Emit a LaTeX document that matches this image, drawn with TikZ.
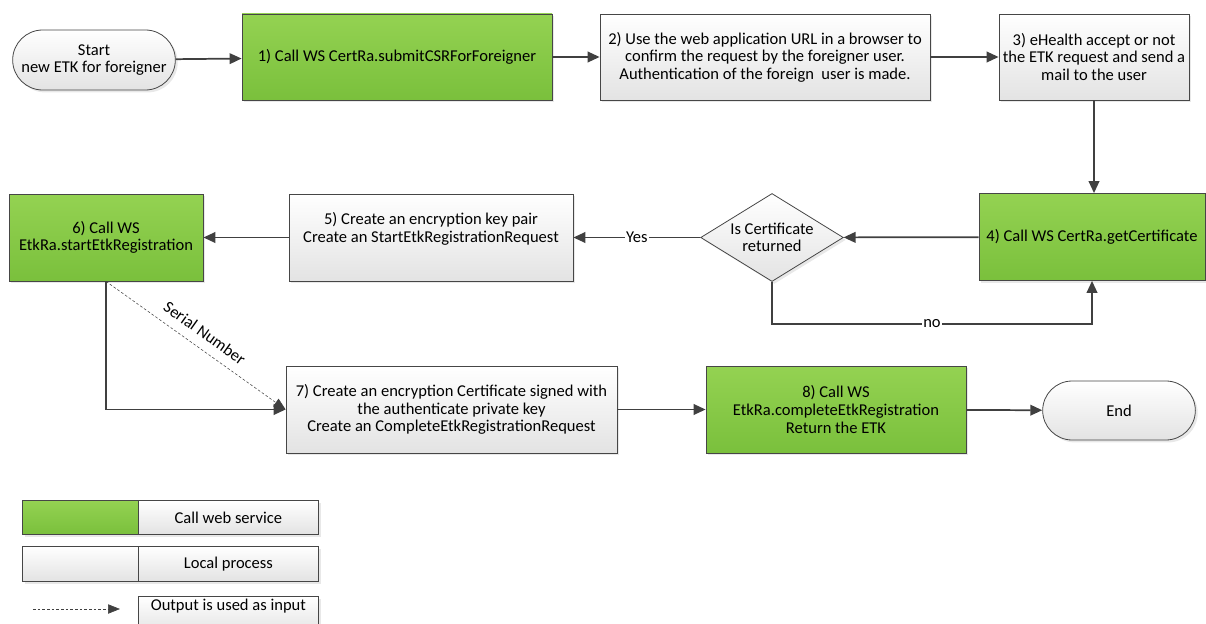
\documentclass[tikz,border=0pt]{standalone}
\usepackage{fontspec}
\setmainfont{Carlito}
\usetikzlibrary{arrows.meta,shapes.geometric,shapes.misc,shadows,calc}
\definecolor{gtop}{RGB}{148,210,82}
\definecolor{gbot}{RGB}{122,192,60}
\definecolor{edge}{RGB}{70,70,70}
\definecolor{lnk}{RGB}{64,64,64}
\begin{document}
\begin{tikzpicture}[x=0.75pt,y=-0.75pt,
  font=\fontsize{12.4}{13.2}\selectfont,
  wd/.style={minimum width={#1*0.75pt}},
  ht/.style={minimum height={#1*0.75pt}},
  base/.style={draw=edge, line width=0.6pt, align=center, inner sep=2pt,
    drop shadow={opacity=0.18, shadow xshift=1.8pt, shadow yshift=-1.8pt}},
  wsbox/.style={base, rectangle, top color=gtop, bottom color=gbot},
  locbox/.style={base, rectangle, top color=white, bottom color=black!11},
  term/.style={base, rounded rectangle, top color=white, bottom color=black!11},
  decide/.style={base, diamond, top color=white, bottom color=black!11, inner sep=0pt},
  flow/.style={draw=lnk, line width=1.3pt, -{Triangle[length=9pt,width=8pt]}},
  serial/.style={draw=lnk, line width=0.4pt, dashed, dash pattern=on 2pt off 1.5pt, -{Triangle[length=9pt,width=7pt]}},
  lab/.style={fill=white, inner sep=1pt}
]
\useasboundingbox (0,0) rectangle (1206,624);

% row 1
\node[term, wd=168, ht=60] (start) at (94,60) {Start\\new ETK for foreigner};
\node[wsbox, wd=310, ht=86] (b1) at (397,57) {1) Call WS CertRa.submitCSRForForeigner};
\node[locbox, wd=330, ht=86] (b2) at (765,57) {2) Use the web application URL in a browser to\\confirm the request by the foreigner user.\\Authentication of the foreign\ \ user is made.};
\node[locbox, wd=190, ht=86] (b3) at (1094,57) {3) eHealth accept or not\\the ETK request and send a\\mail to the user};

% row 2
\node[wsbox, wd=226, ht=87] (b4) at (1092,237) {4) Call WS CertRa.getCertificate};
\node[decide, minimum width=107pt, minimum height=66pt] (dia) at (772,237.5) {};
\node[align=center, inner sep=0pt] (diatext) at (772,237.5) {Is Certificate\\returned};
\node[locbox, wd=284, ht=87] (b5) at (431,237.5) {5) Create an encryption key pair\\Create an StartEtkRegistrationRequest\\[2pt]};
\node[wsbox, wd=194, ht=87] (b6) at (106,237.5) {6) Call WS\\EtkRa.startEtkRegistration};

% row 3
\node[locbox, wd=331, ht=87] (b7) at (451.5,409.5) {7) Create an encryption Certificate signed with\\the authenticate private key\\Create an CompleteEtkRegistrationRequest};
\node[wsbox, wd=260, ht=87] (b8) at (836,409.5) {8) Call WS\\EtkRa.completeEtkRegistration\\Return the ETK};
\node[term, wd=158, ht=59] (end) at (1119,410.5) {End};

% connectors
\draw[flow] (start) -- (b1);
\draw[flow] (b1) -- (b2);
\draw[flow] (b2) -- (b3);
\draw[flow] (b3.south) -- (b3.south |- b4.north);
\draw[flow] (b4) -- (dia);
\draw[flow] (dia.west) -- node[lab]{Yes} (b5.east);
\coordinate (nocorner) at ($(dia.south)+(0,42)$);
\draw[flow] (dia.south) -- (nocorner) -- node[lab]{no} (nocorner -| b4.south) -- (b4.south);
\draw[flow] (b5) -- (b6);
\draw[flow] (b6.south) |- (b7.west);
\draw[serial] (b6.south) -- node[sloped, above, inner sep=7pt]{Serial Number} (b7.west);
\draw[flow] (b7) -- (b8);
\draw[flow] (b8) -- (end);

% legend
\node[base, rectangle, top color=gtop, bottom color=gbot, wd=116, ht=34, anchor=north west] (l1a) at (22,500) {};
\node[locbox, wd=180, ht=34, anchor=north west] (l1b) at (138,500) {Call web service};
\node[locbox, wd=116, ht=35, anchor=north west] (l2a) at (22,546) {};
\node[locbox, wd=180, ht=35, anchor=north west] (l2b) at (138,546) {Local process};
\node[locbox, wd=180, ht=32, anchor=north west] (l3) at (138,596) {Output is used as input\\[2pt]};
\coordinate (ls) at (33,609);
\coordinate (le) at (120,609);
\draw[serial, line width=0.5pt] (ls) -- (le);
\end{tikzpicture}
\end{document}
